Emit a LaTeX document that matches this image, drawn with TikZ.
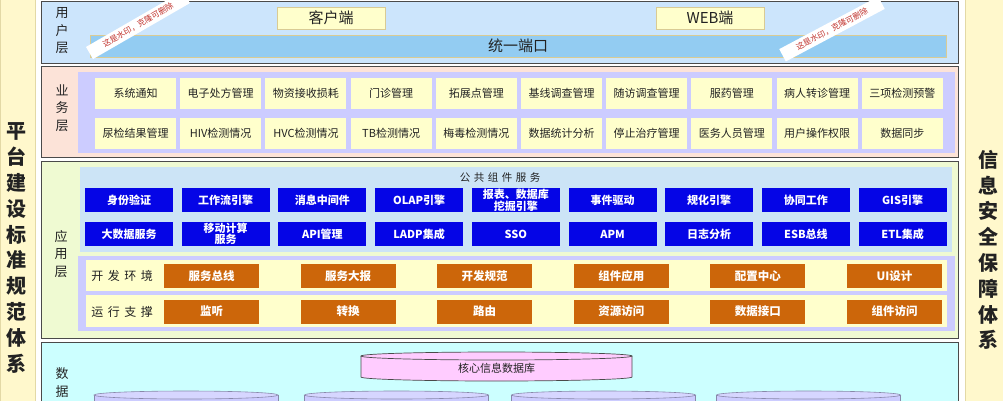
\documentclass[tikz,border=0pt]{standalone}
\usepackage{fontspec}
\setmainfont{Noto Sans CJK SC}
\definecolor{sideY}{HTML}{FFF8CC}
\definecolor{sideB}{HTML}{E3D9A6}
\definecolor{userB}{HTML}{CCE5FC}
\definecolor{barB}{HTML}{93CCF2}
\definecolor{bizP}{HTML}{FCE3D8}
\definecolor{lav}{HTML}{CCCCFF}
\definecolor{bizY}{HTML}{FFFFCC}
\definecolor{appG}{HTML}{EFFAD2}
\definecolor{pubB}{HTML}{CCE4F6}
\definecolor{compB}{HTML}{0505E6}
\definecolor{orng}{HTML}{CC660A}
\definecolor{dataC}{HTML}{CCFFFF}
\definecolor{pinkC}{HTML}{FFCCFF}
\definecolor{frame}{HTML}{4A4A4A}
\definecolor{tanB}{HTML}{D9CB94}
\definecolor{txt}{HTML}{222222}
\definecolor{wmred}{HTML}{C0302A}
\definecolor{cylb}{HTML}{8888AA}
\tikzset{
  layer/.style={draw=frame, line width=0.9pt},
  biz/.style={fill=bizY, minimum width=81pt, minimum height=31pt, inner sep=0pt, text=txt, font=\fontsize{11}{12}\selectfont},
  comp/.style={fill=compB, minimum width=88pt, minimum height=24pt, inner sep=0pt, text=white, align=center, font=\bfseries\fontsize{11}{10.5}\selectfont},
  orbox/.style={fill=orng, minimum width=95pt, minimum height=24pt, inner sep=0pt, text=white, font=\bfseries\fontsize{11.5}{12}\selectfont},
  vlab/.style={align=center, text=txt, font=\fontsize{13}{17.5}\selectfont, inner sep=0pt},
  bigv/.style={align=center, text=txt, font=\bfseries\fontsize{20}{25.8}\selectfont, inner sep=0pt},
  term/.style={fill=bizY, draw=tanB, line width=0.8pt, minimum width=108pt, minimum height=22pt, inner sep=0pt, font=\fontsize{15}{16}\selectfont, text=txt},
  rowlab/.style={text=txt, inner sep=0pt, font=\fontsize{12}{13}\selectfont},
  wm/.style={fill=white, text=wmred, font=\fontsize{8}{9}\selectfont, minimum height=14pt, inner xsep=16pt, inner ysep=1pt},
}
\begin{document}
\begin{tikzpicture}[x=1pt,y=-1pt]
\useasboundingbox (0,0) rectangle (1003,400);
\clip (0,0) rectangle (1003,400);
\fill[white] (0,0) rectangle (1003,400);
% side columns
\filldraw[fill=sideY, draw=sideB, line width=0.8pt] (0,-2) rectangle (35,402);
\filldraw[fill=sideY, draw=sideB, line width=0.8pt] (965,-2) rectangle (1006,402);
\node[bigv] (left) at (16,248) {平\\台\\建\\设\\标\\准\\规\\范\\体\\系};
\node[bigv] (right) at (988,250) {信\\息\\安\\全\\保\\障\\体\\系};
% user layer
\filldraw[layer, fill=userB] (41,1) rectangle (958,63);
\node[vlab] (ul) at (62,31) {用\\户\\层};
\node[term] (client) at (331,18) {客户端};
\node[term] (web) at (710,18) {WEB端};
\node[fill=barB, draw=tanB, line width=0.8pt, minimum width=856pt, minimum height=22pt, inner sep=0pt, font=\fontsize{15}{16}\selectfont, text=txt] (port) at (518,46) {统一端口};
% business layer
\filldraw[layer, fill=bizP] (41,66) rectangle (958,157);
\fill[lav] (78,72) rectangle (955,153);
\node[vlab] (bl) at (62,108) {业\\务\\层};
\foreach \t [count=\i from 0] in {系统通知,电子处方管理,物资接收损耗,门诊管理,拓展点管理,基线调查管理,随访调查管理,服药管理,病人转诊管理,三项检测预警}
  \node[biz] (ba\i) at ({135.5+85.2*\i},93.5) {\t};
\foreach \t [count=\i from 0] in {尿检结果管理,HIV检测情况,HVC检测情况,TB检测情况,梅毒检测情况,数据统计分析,停止治疗管理,医务人员管理,用户操作权限,数据同步}
  \node[biz] (bb\i) at ({135.5+85.2*\i},133.5) {\t};
% application layer
\filldraw[layer, fill=appG] (41,161) rectangle (958,338);
\node[vlab] (al) at (61,254) {应\\用\\层};
\fill[pubB] (80,167) rectangle (952,252);
\node[text=txt, inner sep=0pt, font=\fontsize{10.5}{11}\selectfont] (pubt) at (500,178) {公\hspace{3.5pt}共\hspace{3.5pt}组\hspace{3.5pt}件\hspace{3.5pt}服\hspace{3.5pt}务};
\foreach \t [count=\i from 0] in {身份验证,工作流引擎,消息中间件,OLAP引擎,{报表、数据库\\挖掘引擎},事件驱动,规化引擎,协同工作,GIS引擎}
  \node[comp] (ca\i) at ({129+96.7*\i},200) {\t};
\foreach \t [count=\i from 0] in {大数据服务,{移动计算\\服务},API管理,LADP集成,SSO,APM,日志分析,ESB总线,ETL集成}
  \node[comp] (cb\i) at ({129+96.7*\i},234) {\t};
\fill[lav] (78,256) rectangle (955,331);
\fill[bizY] (86,260) rectangle (947,291);
\fill[bizY] (86,295) rectangle (947,327);
\node[rowlab] (dev) at (122,276) {开\hspace{4.5pt}发\hspace{4.5pt}环\hspace{4.5pt}境};
\node[rowlab] (run) at (122,311.5) {运\hspace{4.5pt}行\hspace{4.5pt}支\hspace{4.5pt}撑};
\foreach \t [count=\i from 0] in {服务总线,服务大报,开发规范,组件应用,配置中心,UI设计}
  \node[orbox] (oa\i) at ({211.5+136.6*\i},276) {\t};
\foreach \t [count=\i from 0] in {监听,转换,路由,资源访问,数据接口,组件访问}
  \node[orbox] (ob\i) at ({211.5+136.6*\i},311.5) {\t};
% data layer
\filldraw[layer, fill=dataC] (41,342) rectangle (958,420);
\node[vlab] (dl) at (62,382.5) {数\\据};
\draw[fill=pinkC, draw=frame, line width=0.7pt] (361,356) -- (361,377) arc[start angle=180, end angle=360, x radius=135.5pt, y radius=4pt] -- (632,356);
\draw[fill=pinkC, draw=frame, line width=0.7pt] (496.5,356) ellipse [x radius=135.5pt, y radius=4pt];
\node[text=txt, inner sep=0pt, font=\fontsize{11}{12}\selectfont] (core) at (496.5,368) {核心信息数据库};
\foreach \cx in {186,396.5,603.5,808.5} {
  \draw[fill=lav, draw=cylb, line width=0.6pt] ({\cx-92},395) -- ({\cx-92},420) -- ({\cx+92},420) -- ({\cx+92},395);
  \draw[fill=lav!80!white, draw=cylb, line width=0.6pt] (\cx,395) ellipse [x radius=92pt, y radius=4pt];
}
% watermarks
\node[wm, rotate=30] (wm1) at (138,25) {这是水印，克隆可删除};
\node[wm, rotate=28] (wm2) at (832,29) {这是水印，克隆可删除};
\end{tikzpicture}
\end{document}
